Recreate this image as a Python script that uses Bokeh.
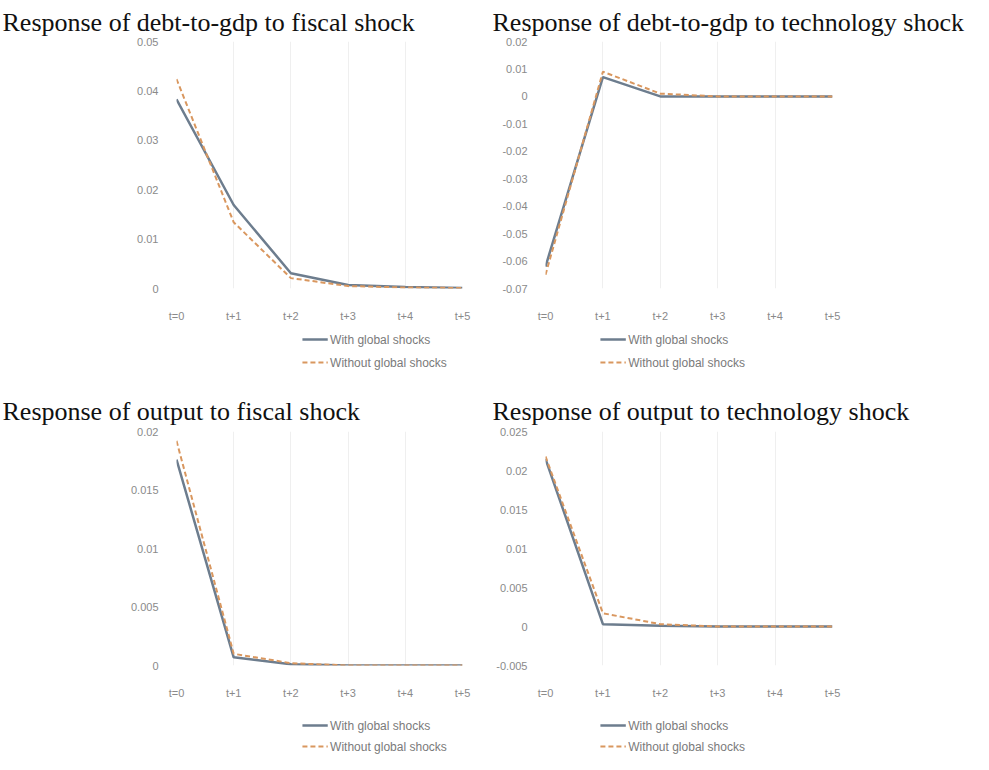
from bokeh.plotting import figure
from bokeh.layouts import column, row
from bokeh.models import Range1d, FixedTicker, ColumnDataSource
from bokeh.core.properties import value
from bokeh.embed import file_html
from bokeh.resources import INLINE

periods = ["t=0", "t+1", "t+2", "t+3", "t+4", "t+5"]
steps = [0, 1, 2, 3, 4, 5]

debt_fiscal_with = [0.0383, 0.0169, 0.0031, 0.0007, 0.0003, 0.0001]
debt_fiscal_without = [0.0424, 0.0134, 0.0021, 0.0005, 0.0002, 0.0001]
debt_tech_with = [-0.0620, 0.0070, 0.0000, 0.0000, 0.0000, 0.0000]
debt_tech_without = [-0.0650, 0.0090, 0.0010, 0.0000, 0.0000, 0.0000]
output_fiscal_with = [0.0176, 0.0007, 0.0001, 0.0000, 0.0000, 0.0000]
output_fiscal_without = [0.0192, 0.0010, 0.0002, 0.0000, 0.0000, 0.0000]
output_tech_with = [0.0215, 0.0003, 0.0001, 0.0000, 0.0000, 0.0000]
output_tech_without = [0.0218, 0.0017, 0.0003, 0.0000, 0.0000, 0.0000]

debt_fiscal_ticks = [0, 0.01, 0.02, 0.03, 0.04, 0.05]
debt_fiscal_labels = ["0", "0.01", "0.02", "0.03", "0.04", "0.05"]
debt_tech_ticks = [-0.07, -0.06, -0.05, -0.04, -0.03, -0.02, -0.01, 0, 0.01, 0.02]
debt_tech_labels = ["-0.07", "-0.06", "-0.05", "-0.04", "-0.03", "-0.02", "-0.01", "0", "0.01", "0.02"]
output_fiscal_ticks = [0, 0.005, 0.01, 0.015, 0.02]
output_fiscal_labels = ["0", "0.005", "0.01", "0.015", "0.02"]
output_tech_ticks = [-0.005, 0, 0.005, 0.01, 0.015, 0.02, 0.025]
output_tech_labels = ["-0.005", "0", "0.005", "0.01", "0.015", "0.02", "0.025"]

series_names = ["With global shocks", "Without global shocks"]

WITH_COLOR = "#6d7d8e"
WITHOUT_COLOR = "#d9975f"
TICK_COLOR = "#8a8a8a"
FIG_W = 486


def make_panel(title, with_vals, without_vals, ticks, labels, left_col,
               top, title_standoff):
    if left_col:
        b_left, b_right, t_off = 176, 24, -174
    else:
        b_left, b_right, t_off = 59, 140, -53
    p = figure(width=FIG_W, height=324, output_backend="svg", toolbar_location=None,
               x_range=Range1d(0, 5), y_range=Range1d(ticks[0], ticks[-1]),
               min_border_left=b_left, min_border_right=b_right,
               min_border_top=top, min_border_bottom=30,
               outline_line_color=None)
    p.title.text = title
    p.title.text_font = "Liberation Serif"
    p.title.text_font_size = "26px"
    p.title.text_font_style = "normal"
    p.title.text_color = "#111111"
    p.title.align = "left"
    p.title.offset = t_off
    p.title.standoff = title_standoff

    src = ColumnDataSource(dict(x=steps, w=with_vals, wo=without_vals))
    p.line("x", "w", source=src, line_color=WITH_COLOR, line_width=2.5)
    p.line("x", "wo", source=src, line_color=WITHOUT_COLOR, line_width=2,
           line_dash="5 3")

    p.xaxis.ticker = FixedTicker(ticks=steps)
    p.xaxis.major_label_overrides = {s: lab for s, lab in zip(steps, periods)}
    p.yaxis.ticker = FixedTicker(ticks=ticks)
    p.yaxis.major_label_overrides = {t: lab for t, lab in zip(ticks, labels)}
    for ax in (p.xaxis, p.yaxis):
        ax.axis_line_color = None
        ax.major_tick_line_color = None
        ax.minor_tick_line_color = None
        ax.major_label_text_font = "Liberation Sans"
        ax.major_label_text_font_size = "11px"
        ax.major_label_text_color = TICK_COLOR
    p.xaxis.major_label_standoff = 15
    p.yaxis.major_label_standoff = 12
    p.xgrid.grid_line_color = "#efefef"
    p.ygrid.grid_line_color = None
    return p


def make_legend(left_col, h, row1, row2):
    # legend drawn in its own small strip below each chart
    x0 = 214 if left_col else 93
    sw = 43
    q = figure(width=FIG_W, height=h, output_backend="svg", toolbar_location=None,
               x_range=Range1d(0, FIG_W), y_range=Range1d(h, 0),
               min_border=0, outline_line_color=None)
    q.axis.visible = False
    q.grid.visible = False
    q.line([x0, x0 + sw], [row1, row1], line_color=WITH_COLOR, line_width=2.5)
    q.line([x0, x0 + sw], [row2, row2], line_color=WITHOUT_COLOR, line_width=2,
           line_dash="5 3")
    q.text(x=[x0 + sw + 4, x0 + sw + 4], y=[row1, row2], text=series_names,
           text_font=value("Liberation Sans"), text_font_size="12px",
           text_color="#7a7a7a", text_baseline="middle", text_align="left")
    return q


p1 = make_panel("Response of debt-to-gdp to fiscal shock", debt_fiscal_with,
                debt_fiscal_without, debt_fiscal_ticks, debt_fiscal_labels, True, 40, 10)
p2 = make_panel("Response of debt-to-gdp to technology shock", debt_tech_with,
                debt_tech_without, debt_tech_ticks, debt_tech_labels, False, 40, 10)
p3 = make_panel("Response of output to fiscal shock", output_fiscal_with,
                output_fiscal_without, output_fiscal_ticks, output_fiscal_labels, True, 54, 12)
p4 = make_panel("Response of output to technology shock", output_tech_with,
                output_tech_without, output_tech_ticks, output_tech_labels, False, 54, 12)

l1 = make_legend(True, 53, 15, 38)
l2 = make_legend(False, 53, 15, 38)
l3 = make_legend(True, 53, 24, 45)
l4 = make_legend(False, 53, 24, 45)

layout = column(row(column(p1, l1), column(p2, l2)),
                row(column(p3, l3), column(p4, l4)))
open("out.html", "w").write(file_html(layout, INLINE))
